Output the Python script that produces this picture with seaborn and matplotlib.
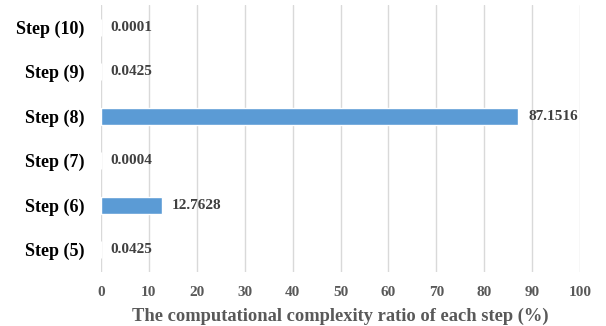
import matplotlib
matplotlib.use("Agg")
import matplotlib.pyplot as plt
import seaborn as sns
import pandas as pd

steps = ["Step (10)", "Step (9)", "Step (8)", "Step (7)", "Step (6)", "Step (5)"]
ratios = [0.0001, 0.0425, 87.1516, 0.0004, 12.7628, 0.0425]
labels = ["0.0001", "0.0425", "87.1516", "0.0004", "12.7628", "0.0425"]
xticks = [0, 10, 20, 30, 40, 50, 60, 70, 80, 90, 100]

df = pd.DataFrame({"step": steps, "ratio": ratios})

sns.set_style("white")
plt.rcParams["font.family"] = ["Liberation Serif", "DejaVu Serif"]
plt.rcParams["font.weight"] = "bold"

fig = plt.figure(figsize=(6.06, 3.26), dpi=100)
ax = fig.add_axes([101 / 606, 1 - 272 / 326, (580 - 101) / 606, (272 - 5) / 326])

sns.barplot(data=df, x="ratio", y="step", order=steps, orient="h",
            color="#5B9BD5", saturation=1, width=0.38, ax=ax, zorder=3)

ax.set_xlim(0, 100)
ax.set_ylim(5.5, -0.5)
ax.set_xticks(xticks)
ax.set_xticklabels([str(t) for t in xticks], fontsize=11, fontweight="bold", color="#595959")
ax.tick_params(axis="x", length=0, pad=10)
ax.tick_params(axis="y", length=0, pad=12)
for lab in ax.get_yticklabels():
    lab.set_fontsize(13)
    lab.set_fontweight("bold")
    lab.set_color("black")
ax.grid(axis="x", color="#D9D9D9", linewidth=1, zorder=0)
ax.set_axisbelow(True)
for s in ax.spines.values():
    s.set_visible(False)

ax.set_ylabel("")
ax.set_xlabel("The computational complexity ratio of each step (%)", fontsize=13.3,
              fontweight="bold", color="#595959", labelpad=6)

for i, (v, t) in enumerate(zip(ratios, labels)):
    ax.text(v + 2.0, i, t, va="center", ha="left", fontsize=11,
            fontweight="bold", color="#404040")

fig.savefig("out.png", dpi=100)
